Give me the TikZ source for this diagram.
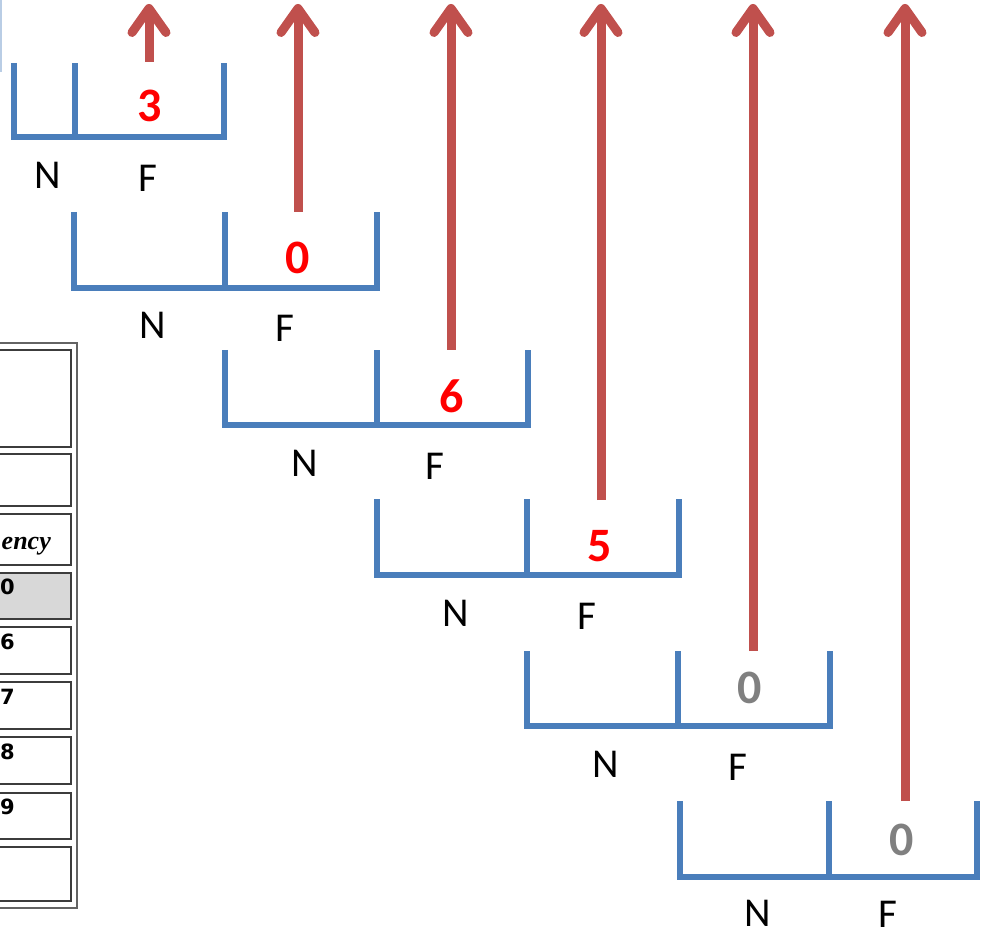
\documentclass[tikz,border=0pt]{standalone}
\usepackage{fontspec}
\setmainfont{Carlito}
\newfontfamily\tabserif{Liberation Serif}
\newfontfamily\tabsans{DejaVu Sans}
\usetikzlibrary{arrows.meta}
\definecolor{cupblue}{RGB}{74,126,187}
\definecolor{arrred}{RGB}{192,80,77}
\definecolor{numred}{RGB}{255,0,0}
\definecolor{numgray}{RGB}{128,128,128}
\definecolor{cellgray}{RGB}{216,216,216}
\definecolor{tabline}{RGB}{60,60,60}
\definecolor{lightblue}{RGB}{185,205,229}
\tikzset{
  cup/.style={draw=cupblue,line width=6.5pt,line cap=butt,line join=miter},
  uparrow/.style={draw=arrred,line width=9pt,-{Straight Barb[length=24pt,width=34pt,round]}},
  lab/.style={font=\fontsize{41}{44}\selectfont,text=black,inner sep=0pt},
  numr/.style={font=\bfseries\fontsize{48}{52}\selectfont,text=numred,inner sep=0pt},
  numg/.style={font=\bfseries\fontsize{48}{52}\selectfont,text=numgray,inner sep=0pt},
  cell/.style={draw=tabline,line width=1.2pt},
  tnum/.style={font=\tabsans\bfseries\fontsize{21}{24}\selectfont,inner sep=0pt,anchor=west}
}
\begin{document}
\begin{tikzpicture}[x=1pt,y=-1pt]
\useasboundingbox (0,0) rectangle (989,936);
% faint line top-left
\draw[lightblue,line width=2pt] (1,0) -- (1,72);
% table
\draw[draw=tabline!80,line width=1.2pt] (-10,343) -- (77,343) -- (77,908) -- (-10,908);
\foreach \a/\b in {350/447,454/506,514/565,627/674,682/729,737/784,793/839,847/901}{
  \draw[cell] (-10,\a) -- (71,\a) -- (71,\b) -- (-10,\b);
}
\fill[cellgray] (-10,573) rectangle (71,619);
\draw[cell] (-10,573) -- (71,573) -- (71,619) -- (-10,619);
\node[font=\tabserif\bfseries\itshape\fontsize{26}{28}\selectfont,inner sep=0pt,anchor=base east] (hdr) at (51,549) {ency};
\node[tnum] (t0) at (0,587) {0};
\node[tnum] (t6) at (0,642) {6};
\node[tnum] (t7) at (0,697) {7};
\node[tnum] (t8) at (0,752) {8};
\node[tnum] (t9) at (0,807) {9};
% cups
\foreach \i/\L/\D/\R/\T/\B in {1/14/75/224/63/137, 2/74/225/377/212/288, 3/225/377/528/350/425, 4/377/527/679/499/575, 5/527/678/830/651/726, 6/680/829/977/801/877}{
  \draw[cup] (\L,\T) -- (\L,\B) -- (\D,\B) -- (\D,\T);
  \draw[cup] (\D,\B) -- (\R,\B) -- (\R,\T);
}
% labels
\node[lab] (n1) at (48,175) {N};   \node[lab] (f1) at (148,178) {F};
\node[lab] (n2) at (153,325) {N};  \node[lab] (f2) at (285,328) {F};
\node[lab] (n3) at (305,463) {N};  \node[lab] (f3) at (435,466) {F};
\node[lab] (n4) at (456,613) {N};  \node[lab] (f4) at (587,616) {F};
\node[lab] (n5) at (606,764) {N};  \node[lab] (f5) at (738,767) {F};
\node[lab] (n6) at (758,913) {N};  \node[lab] (f6) at (888,914) {F};
% numbers
\node[numr] (v1) at (150,106) {3};
\node[numr] (v2) at (298,258) {0};
\node[numr] (v3) at (452,396) {6};
\node[numr] (v4) at (600,546) {5};
\node[numg] (v5) at (750,688) {0};
\node[numg] (v6) at (902,840) {0};
% arrows
\foreach \i/\x/\y in {1/149/62, 2/298/212, 3/451/350, 4/601/500, 5/753/651, 6/905/801}{
  \coordinate (s\i) at (\x,\y);
  \coordinate (e\i) at (\x,4);
  \draw[uparrow] (s\i) -- (e\i);
}
\end{tikzpicture}
\end{document}
